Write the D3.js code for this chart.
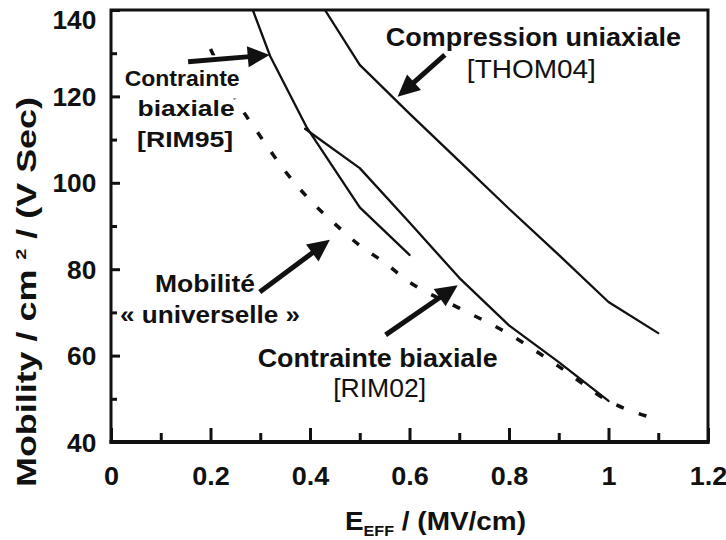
<!DOCTYPE html>
<html><head><meta charset="utf-8">
<script src="https://cdn.jsdelivr.net/npm/d3@7"></script>
<style>
body{margin:0;background:#fff}
svg{display:block}
text{font-family:"Liberation Sans",Arial,Helvetica,sans-serif;fill:#111}
</style>
</head><body>
<svg id="chart" width="726" height="540"></svg>
<script>
// ---------- data ----------
const xTickValues = [0, 0.2, 0.4, 0.6, 0.8, 1, 1.2];
const xTickLabels = ["0", "0.2", "0.4", "0.6", "0.8", "1", "1.2"];
const xMinorTicks = [0.1, 0.3, 0.5, 0.7, 0.9, 1.1];
const yTickValues = [40, 60, 80, 100, 120, 140];
const yTickLabels = ["40", "60", "80", "100", "120", "140"];
const yMinorTicks = [50, 70, 90, 110, 130];

// Mobilité « universelle » (dashed)
const universalE   = [0.2, 0.25, 0.3, 0.35, 0.4, 0.45, 0.5, 0.55, 0.6, 0.7, 0.8, 0.9, 1.0, 1.1];
const universalMob = [131, 119.5, 110.8, 102.7, 96, 90.5, 85.5, 81.5, 77, 71, 65, 57.5, 49.5, 45.2];

// Contrainte biaxiale [RIM95]
const rim95E   = [0.285, 0.32, 0.394, 0.5, 0.6];
const rim95Mob = [140, 129.3, 112.7, 94.3, 83.3];

// Contrainte biaxiale [RIM02]
const rim02E   = [0.39, 0.5, 0.6, 0.7, 0.8, 0.9, 1.0];
const rim02Mob = [112.5, 103.4, 90.8, 78, 67, 58.5, 49.5];

// Compression uniaxiale [THOM04]
const thomE   = [0.43, 0.5, 0.6, 0.7, 0.8, 0.9, 1.0, 1.1];
const thomMob = [140, 127.3, 116, 105, 94, 83.3, 72.4, 65.2];

// ---------- layout ----------
const svg = d3.select("#chart");
const x = d3.scaleLinear().domain([0, 1.2]).range([111, 708]);
const y = d3.scaleLinear().domain([40, 140]).range([442, 10]);

svg.append("rect").attr("width", 726).attr("height", 540).attr("fill", "#fff");

svg.append("defs").append("clipPath").attr("id", "plotclip")
  .append("rect").attr("x", x(0)).attr("y", y(140)).attr("width", x(1.2) - x(0)).attr("height", y(40) - y(140));

const plot = svg.append("g").attr("clip-path", "url(#plotclip)");
const line = d3.line().x(d => x(d[0])).y(d => y(d[1]));
const zip = (a, b) => a.map((v, i) => [v, b[i]]);

// dashed universal mobility
plot.append("path")
  .attr("d", line.curve(d3.curveMonotoneX)(zip(universalE, universalMob)))
  .attr("fill", "none").attr("stroke", "#111").attr("stroke-width", 3.5)
  .attr("stroke-dasharray", "8,16");
line.curve(d3.curveLinear);

// white box behind RIM95 label (hides dashed segment like the reference)
svg.append("rect")
  .attr("x", x(0.02)).attr("y", y(129.5)).attr("width", x(0.27) - x(0.02)).attr("height", y(119.5) - y(129.5))
  .attr("fill", "#fff");

[[rim95E, rim95Mob], [rim02E, rim02Mob], [thomE, thomMob]].forEach(([e, m]) => {
  plot.append("path").attr("d", line(zip(e, m)))
    .attr("fill", "none").attr("stroke", "#111").attr("stroke-width", 2.3)
    .attr("stroke-linejoin", "round").attr("stroke-linecap", "round");
});

// ---------- axes ----------
const xAxis = d3.axisBottom(x).tickValues(xTickValues).tickSize(-14).tickPadding(0)
  .tickFormat((d, i) => xTickLabels[i]);
const gx = svg.append("g").attr("transform", `translate(0,${y(40)})`).call(xAxis);
gx.select(".domain").remove();
gx.selectAll(".tick line").attr("stroke", "#111").attr("stroke-width", 3);
gx.selectAll(".tick text").attr("y", 43).attr("dy", 0)
  .attr("font-size", 25).attr("font-weight", "bold").attr("fill", "#1a1a1a")
  .attr("transform", "scale(1.08,1)");

const gxm = svg.append("g").attr("transform", `translate(0,${y(40)})`)
  .call(d3.axisBottom(x).tickValues(xMinorTicks).tickSize(-9).tickFormat(""));
gxm.select(".domain").remove();
gxm.selectAll(".tick line").attr("stroke", "#111").attr("stroke-width", 3);

const yAxis = d3.axisLeft(y).tickValues(yTickValues).tickSize(-9).tickPadding(0)
  .tickFormat((d, i) => yTickLabels[i]);
const gy = svg.append("g").attr("transform", `translate(${x(0)},0)`).call(yAxis);
gy.select(".domain").remove();
gy.selectAll(".tick line").attr("stroke", "#111").attr("stroke-width", 3);
gy.selectAll(".tick text").attr("x", -14).attr("dy", "0.36em")
  .attr("font-size", 25).attr("font-weight", "bold").attr("fill", "#1a1a1a")
  .attr("transform", d => d === 140 ? "translate(0,9) scale(1.05,1)" : "scale(1.05,1)");

const gym = svg.append("g").attr("transform", `translate(${x(0)},0)`)
  .call(d3.axisLeft(y).tickValues(yMinorTicks).tickSize(-6).tickFormat(""));
gym.select(".domain").remove();
gym.selectAll(".tick line").attr("stroke", "#111").attr("stroke-width", 3);

// frame
svg.append("rect").attr("x", x(0)).attr("y", y(140))
  .attr("width", x(1.2) - x(0)).attr("height", y(40) - y(140))
  .attr("fill", "none").attr("stroke", "#111").attr("stroke-width", 3);
svg.append("line").attr("x1", x(0) - 1.5).attr("x2", x(1.2) + 1.5).attr("y1", y(40)).attr("y2", y(40))
  .attr("stroke", "#111").attr("stroke-width", 4);

// axis titles
const xt = svg.append("text").attr("x", 345).attr("y", 530)
  .attr("font-size", 26).attr("font-weight", "bold").attr("fill", "#1a1a1a")
  .attr("textLength", 181).attr("lengthAdjust", "spacingAndGlyphs");
xt.append("tspan").text("E");
xt.append("tspan").attr("font-size", 15).attr("dy", 6).text("EFF");
xt.append("tspan").attr("dy", -6).text(" / (MV/cm)");

const yt = svg.append("text").attr("transform", "translate(36,292) rotate(-90)")
  .attr("text-anchor", "middle").attr("font-size", 27).attr("font-weight", "bold").attr("fill", "#1a1a1a")
  .attr("textLength", 390).attr("lengthAdjust", "spacingAndGlyphs");
yt.append("tspan").text("Mobility / cm ");
yt.append("tspan").attr("font-size", 15).attr("dy", -10).text("2");
yt.append("tspan").attr("dy", 10).text(" / (V Sec)");

// ---------- annotations (data coordinates) ----------
const arrows = [
  {from: [0.155, 128.0], to: [0.319, 129.6]},
  {from: [0.671, 129.6], to: [0.576, 119.9]},
  {from: [0.299, 74.7],  to: [0.440, 86.8]},
  {from: [0.552, 64.8],  to: [0.697, 76.3]}
];
arrows.forEach(a => {
  const x1 = x(a.from[0]), y1 = y(a.from[1]), x2 = x(a.to[0]), y2 = y(a.to[1]);
  const dx = x2 - x1, dy = y2 - y1, L = Math.hypot(dx, dy), ux = dx / L, uy = dy / L;
  const hl = 22, hw = 10.5;
  const bx = x2 - ux * hl, by = y2 - uy * hl;
  svg.append("line").attr("x1", x1).attr("y1", y1).attr("x2", bx + ux * 2).attr("y2", by + uy * 2)
    .attr("stroke", "#111").attr("stroke-width", 5);
  svg.append("path")
    .attr("d", `M${x2},${y2}L${bx - uy * hw},${by + ux * hw}L${bx + uy * hw},${by - ux * hw}Z`)
    .attr("fill", "#111");
});

const labels = [
  {t: "Compression uniaxiale", at: [0.849, 131.6], size: 25, w: "bold",   len: 295},
  {t: "[THOM04]",              at: [0.845, 124.3], size: 26, w: "normal", len: 129},
  {t: "Contrainte",            at: [0.143, 122.4], size: 22, w: "bold",   len: 115},
  {t: "biaxiale",              at: [0.151, 115.5], size: 22, w: "bold",   len: 97},
  {t: "[RIM95]",               at: [0.149, 108.3], size: 22, w: "bold",   len: 96},
  {t: "Mobilité",              at: [0.189, 74.7],  size: 23, w: "bold",   len: 100},
  {t: "« universelle »",       at: [0.199, 67.5],  size: 23, w: "bold",   len: 180},
  {t: "Contrainte biaxiale",   at: [0.536, 57.4],  size: 25, w: "bold",   len: 240},
  {t: "[RIM02]",               at: [0.540, 50.4],  size: 25, w: "normal", len: 93}
];
labels.forEach(l => {
  svg.append("text").attr("x", x(l.at[0])).attr("y", y(l.at[1]))
    .attr("text-anchor", "middle").attr("font-size", l.size).attr("font-weight", l.w)
    .attr("textLength", l.len).attr("lengthAdjust", "spacingAndGlyphs")
    .text(l.t);
});
</script>
</body></html>
